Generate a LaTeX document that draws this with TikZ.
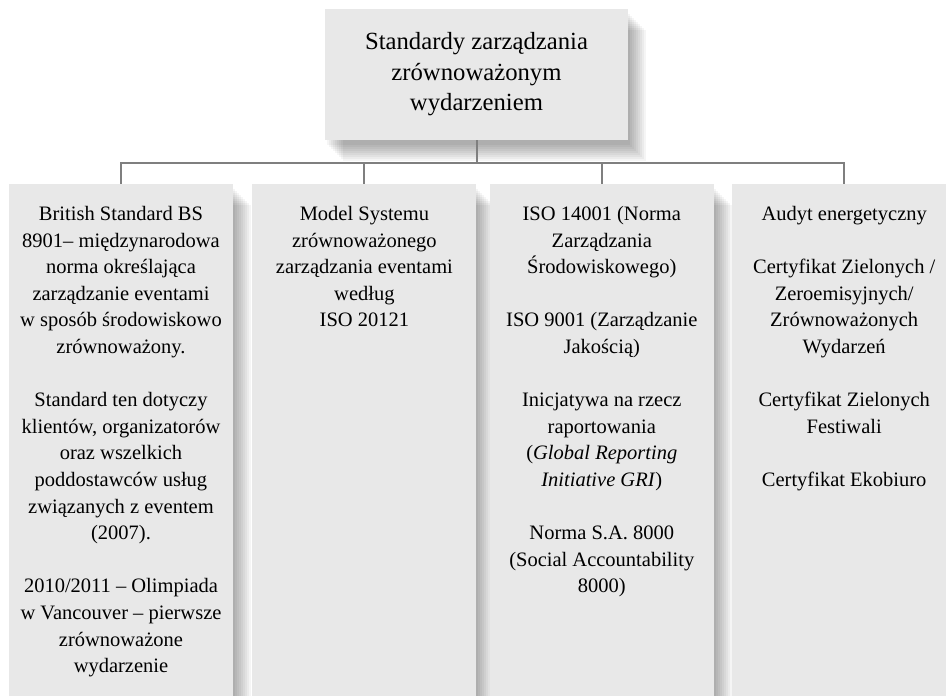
\documentclass[tikz,border=0pt]{standalone}
\usepackage{fontspec}
\setmainfont{Liberation Serif}
\usetikzlibrary{positioning}

\definecolor{tlo}{HTML}{E8E8E8}
\definecolor{linia}{HTML}{7F7F7F}

\tikzset{
    warstwa/.style={preaction={fill=black,fill opacity=0.04,transform canvas={xshift=#1pt,yshift=-#1pt-3pt}}},
    cien/.style={warstwa/.list={2,4,6,8,10,12,14,16,18}},
    naglowek/.style={fill=tlo,cien,minimum width=303pt,minimum height=131pt,align=center,
        font=\fontsize{24.7}{30.5}\selectfont},
    kolumna/.style={fill=tlo,cien,minimum width=224pt,minimum height=560pt,inner sep=0pt},
    opis/.style={align=center,inner sep=0pt,font=\fontsize{20.5}{26.6}\selectfont},
    polaczenie/.style={draw=linia,line width=2pt}
}

\begin{document}
\begin{tikzpicture}[x=1pt,y=-1pt]
        \useasboundingbox[fill=white] (0,0) rectangle (946,696);
        \clip (0,0) rectangle (946,696);

        \node[naglowek] (glowny) at (476.5,74.5) {Standardy zarządzania\\zrównoważonym\\wydarzeniem};

        \node[kolumna,anchor=north] (k1) at (121,184) {};
        \node[kolumna,right=19pt of k1] (k2) {};
        \node[kolumna,right=13pt of k2] (k3) {};
        \node[kolumna,right=18pt of k3] (k4) {};

        \coordinate[below=23pt of glowny] (szyna);
        \draw[polaczenie] (glowny) -- (szyna);
        \foreach \k in {1,...,4}
            \draw[polaczenie] (szyna) -| (k\k);

        \node[opis,below=22pt of k1.north] (t1) {%
            British Standard BS\\8901– międzynarodowa\\norma określająca\\zarządzanie eventami\\w sposób środowiskowo\\zrównoważony.\\[26.6pt]
            Standard ten dotyczy\\klientów, organizatorów\\oraz wszelkich\\poddostawców usług\\związanych z eventem\\(2007).\\[26.6pt]
            2010/2011 – Olimpiada\\w Vancouver – pierwsze\\zrównoważone\\wydarzenie};
        \node[opis,below=22pt of k2.north] (t2) {%
            Model Systemu\\zrównoważonego\\zarządzania eventami\\według\\ISO 20121};
        \node[opis,below=22pt of k3.north] (t3) {%
            ISO 14001 (Norma\\Zarządzania\\Środowiskowego)\\[26.6pt]
            ISO 9001 (Zarządzanie\\Jakością)\\[26.6pt]
            Inicjatywa na rzecz\\raportowania\\(\textit{Global Reporting}\\\textit{Initiative GRI})\\[26.6pt]
            Norma S.A. 8000\\(Social Accountability\\8000)};
        \node[opis,below=22pt of k4.north] (t4) {%
            Audyt energetyczny\\[26.6pt]
            Certyfikat Zielonych /\\Zeroemisyjnych/\\Zrównoważonych\\Wydarzeń\\[26.6pt]
            Certyfikat Zielonych\\Festiwali\\[26.6pt]
            Certyfikat Ekobiuro};
\end{tikzpicture}
\end{document}
